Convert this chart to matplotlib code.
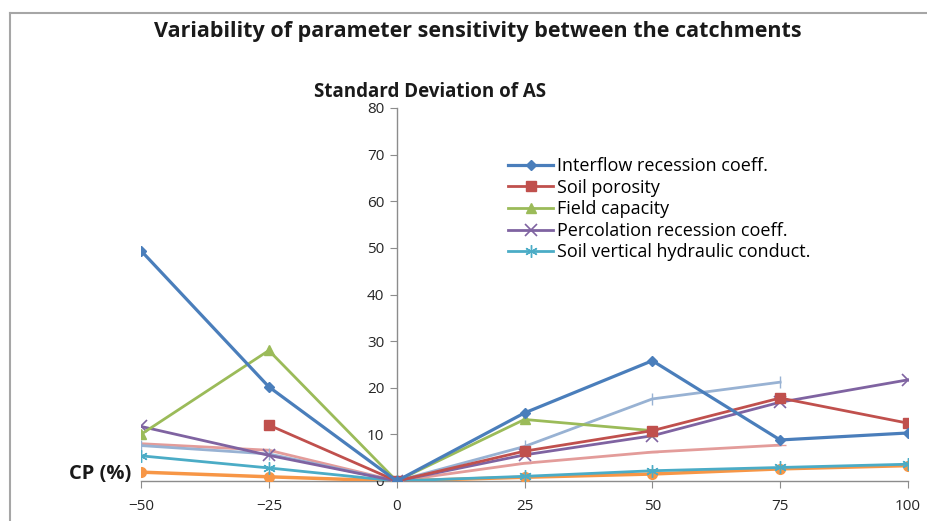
import numpy as np
import matplotlib
matplotlib.use("Agg")
import matplotlib.pyplot as plt
from matplotlib.lines import Line2D

plt.rcParams['font.family'] = ['Open Sans', 'DejaVu Sans']

# Change in parameter (%)
cp = [-50, -25, 0, 25, 50, 75, 100]

# Standard deviation of AS for each parameter (nan = no value)
interflow = [49.4, 20.2, 0, 14.6, 25.8, 8.8, 10.3]
soil_porosity = [np.nan, 12.0, 0, 6.4, 10.8, 17.8, 12.4]
field_capacity = [10.0, 28.0, 0, 13.2, 10.8, np.nan, np.nan]
percolation = [11.7, 5.5, 0, 5.6, 9.7, 16.9, 21.7]
soil_vertical = [5.4, 2.8, 0, 1.0, 2.2, 2.9, 3.6]
extra_orange = [1.9, 0.9, 0, 0.8, 1.5, 2.6, 3.3]
extra_lightblue = [7.6, 5.8, 0, 7.4, 17.6, 21.2, np.nan]
extra_pink = [8.0, 6.6, 0, 3.8, 6.2, 7.7, np.nan]

W, H = 927, 521
fig = plt.figure(figsize=(W / 100, H / 100), dpi=100)
fig.patch.set_facecolor('white')

# axes placed so that -50..100 and 0..80 land where the original has them
ax = fig.add_axes([141 / W, (H - 481) / H, 767 / W, 373 / H])
ax.set_xlim(-50, 100)
ax.set_ylim(0, 80)

# outer frame of the chart area
fig.add_artist(Line2D([10 / W, 1], [1 - 13 / H, 1 - 13 / H], color='#A6A6A6', lw=1.5))
fig.add_artist(Line2D([10 / W, 10 / W], [0, 1 - 13 / H], color='#A6A6A6', lw=1.5))

lw = 2.0
# background series (not in legend)
ax.plot(cp, extra_pink, color='#E39C9A', lw=lw, marker='_', ms=8, label='_nolegend_')
ax.plot(cp, extra_lightblue, color='#98B2D3', lw=lw, marker='|', ms=9, label='_nolegend_')
ax.plot(cp, extra_orange, color='#F79646', lw=lw + 0.5, marker='o', ms=7, label='_nolegend_')

ax.plot(cp, soil_vertical, color='#4BACC6', lw=lw, marker=(6, 2, 0), ms=9,
        label='Soil vertical hydraulic conduct.')
ax.plot(cp, percolation, color='#7F63A1', lw=lw, marker='x', ms=8, mew=1.2,
        label='Percolation recession coeff.')
ax.plot(cp, field_capacity, color='#9BBB59', lw=lw, marker='^', ms=7,
        label='Field capacity')
ax.plot(cp, soil_porosity, color='#C0504D', lw=lw, marker='s', ms=7,
        label='Soil porosity')
ax.plot(cp, interflow, color='#4A7EBB', lw=lw + 0.3, marker='D', ms=5.5,
        label='Interflow recession coeff.')

# axes through the origin, excel style
for s in ['top', 'right']:
    ax.spines[s].set_visible(False)
ax.spines['left'].set_position(('data', 0))
ax.spines['bottom'].set_position(('data', 0))
for s in ['left', 'bottom']:
    ax.spines[s].set_color('#8C8C8C')
    ax.spines[s].set_linewidth(1.0)
    ax.spines[s].set_zorder(0)

ax.set_xticks(cp)
ax.set_yticks(range(0, 81, 10))
ax.tick_params(axis='both', direction='out', color='#8C8C8C', length=5,
               labelsize=11, labelcolor='#262626')
ax.tick_params(axis='x', pad=8)
ax.tick_params(axis='y', pad=4)

# legend, first five parameters only
handles, labels = ax.get_legend_handles_labels()
order = ['Interflow recession coeff.', 'Soil porosity', 'Field capacity',
         'Percolation recession coeff.', 'Soil vertical hydraulic conduct.']
hmap = dict(zip(labels, handles))
leg = ax.legend([hmap[k] for k in order], order, loc='upper left',
                bbox_to_anchor=((508 - 141) / 767, (481 - 157) / 373),
                frameon=False, fontsize=13, handlelength=2.5, handletextpad=0.2,
                labelspacing=0.2, borderaxespad=0, borderpad=0)

fig.text(478 / W, 1 - 32 / H, 'Variability of parameter sensitivity between the catchments',
         ha='center', va='center', fontsize=15.5, fontweight='bold', color='#1a1a1a')
fig.text(430 / W, 1 - 92 / H, 'Standard Deviation of AS',
         ha='center', va='center', fontsize=13.5, fontweight='bold', color='#1a1a1a')
fig.text(100 / W, 1 - 474 / H, 'CP (%)', ha='center', va='center',
         fontsize=14.5, fontweight='bold', color='#1a1a1a')

plt.savefig('out.png', dpi=100)
plt.close()
